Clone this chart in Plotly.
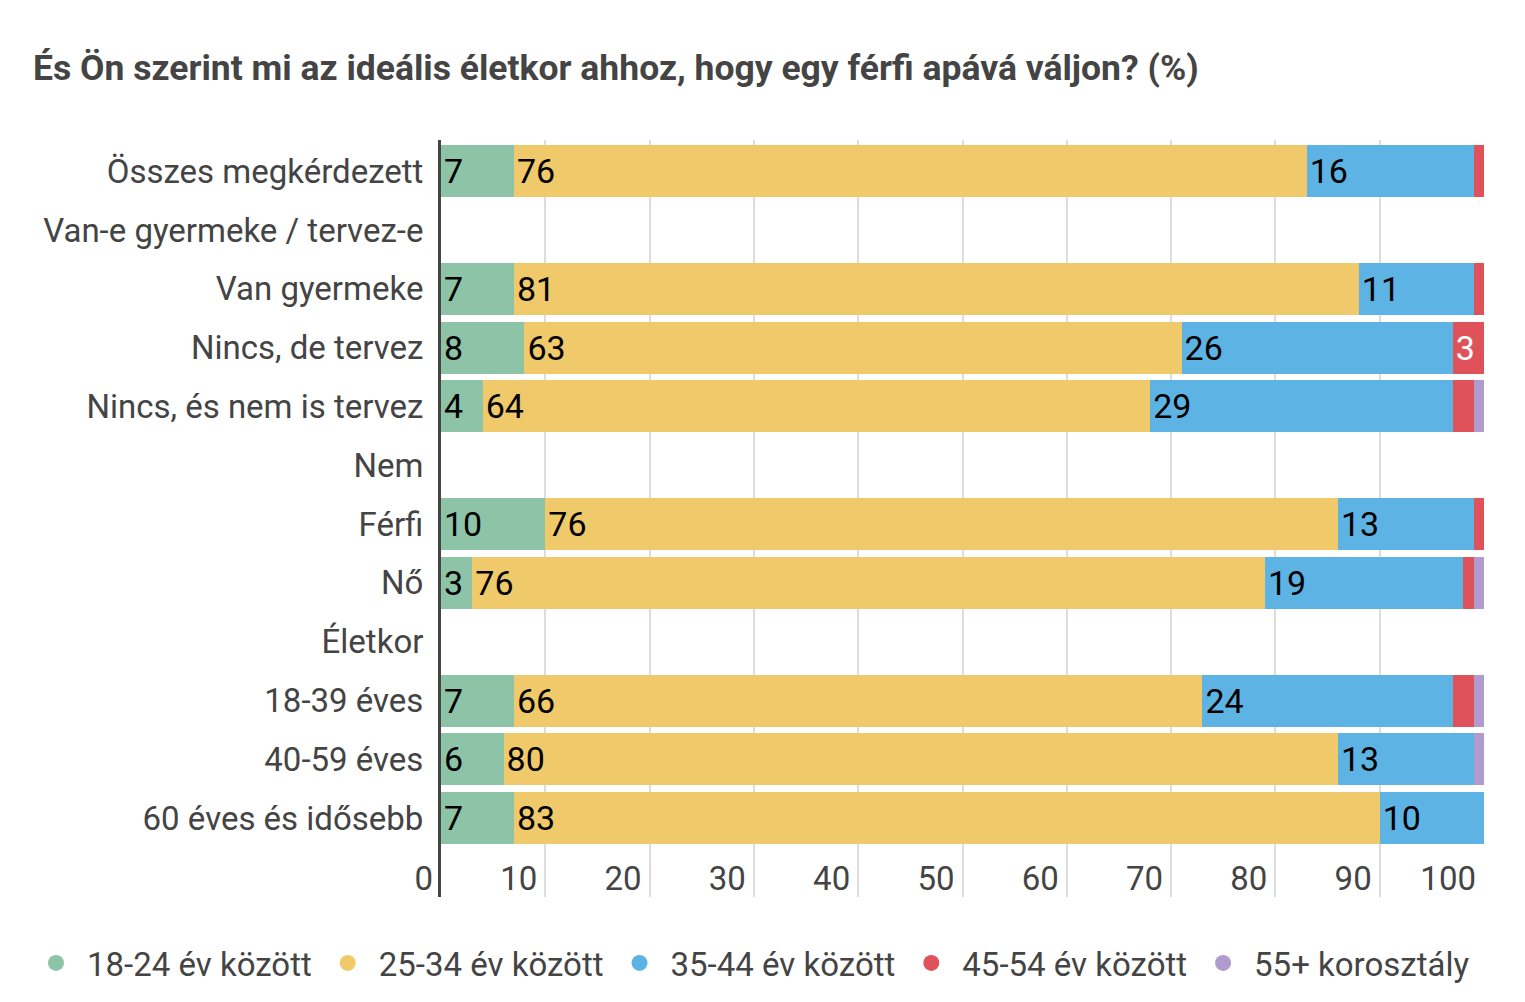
import plotly.graph_objects as go

# sorok (fentről lefelé), a fejléc-soroknak nincs oszlopa
kategoriak = ["Összes megkérdezett", "Van-e gyermeke / tervez-e", "Van gyermeke",
              "Nincs, de tervez", "Nincs, és nem is tervez", "Nem", "Férfi", "Nő",
              "Életkor", "18-39 éves", "40-59 éves", "60 éves és idősebb"]

sorozatok = ["18-24 év között", "25-34 év között", "35-44 év között",
             "45-54 év között", "55+ korosztály"]

ertek_18_24 = [7, None, 7, 8, 4, None, 10, 3, None, 7, 6, 7]
ertek_25_34 = [76, None, 81, 63, 64, None, 76, 76, None, 66, 80, 83]
ertek_35_44 = [16, None, 11, 26, 29, None, 13, 19, None, 24, 13, 10]
ertek_45_54 = [1, None, 1, 3, 2, None, 1, 1, None, 2, 0, 0]
ertek_55 = [0, None, 0, 0, 1, None, 0, 1, None, 1, 1, 0]

x_tickek = [0, 10, 20, 30, 40, 50, 60, 70, 80, 90, 100]

szinek = {"zold": "#8dc3a7", "sarga": "#f0ca6a", "kek": "#5db4e4",
          "piros": "#e0525a", "lila": "#b09bcf", "szurke": "#444444"}
sor_szinek = [szinek["zold"], szinek["sarga"], szinek["kek"], szinek["piros"], szinek["lila"]]
szoveg_szinek = ["#000000", "#000000", "#000000", "#ffffff", "#ffffff"]

BETU = "Roboto, Noto Sans, sans-serif"

# az oldal 8 px-es margója miatt kicsit kisebb a figura
SZEL, MAG = 1509, 986
BAL, JOBB, FENT, LENT = 433, 33, 132, 97
rajz_szel = SZEL - BAL - JOBB
rajz_mag = MAG - FENT - LENT

fig = go.Figure()

for nev, ertekek, szin, szovegszin in zip(sorozatok,
                                         [ertek_18_24, ertek_25_34, ertek_35_44, ertek_45_54, ertek_55],
                                         sor_szinek, szoveg_szinek):
    # csak a 3-nál nagyobb szeleteknél írjuk ki a számot
    feliratok = [str(v) if v is not None and v >= 3 else "" for v in ertekek]
    fig.add_trace(go.Bar(
        x=ertekek, y=kategoriak, orientation="h", name=nev,
        marker=dict(color=szin, line=dict(width=0)),
        text=feliratok, textposition="inside", insidetextanchor="start",
        textangle=0, constraintext="none", cliponaxis=False,
        textfont=dict(family=BETU, size=34, color=szovegszin),
        showlegend=False,
    ))
    # kör alakú jelmagyarázat
    fig.add_trace(go.Scatter(
        x=[None], y=[None], mode="markers", name=nev,
        marker=dict(color=szin, size=26, symbol="circle"),
    ))

fig.update_layout(
    width=SZEL, height=MAG,
    barmode="stack", bargap=0.115,
    paper_bgcolor="white", plot_bgcolor="white",
    margin=dict(l=BAL, r=JOBB, t=FENT, b=LENT, autoexpand=False),
    font=dict(family=BETU, size=33, color=szinek["szurke"]),
    title=dict(text="<b>És Ön szerint mi az ideális életkor ahhoz, hogy egy férfi apává váljon? (%)</b>",
               xref="container", x=25 / SZEL, xanchor="left",
               yref="container", y=1 - 60 / MAG, yanchor="middle",
               font=dict(family=BETU, size=35.5, color=szinek["szurke"])),
    # a jelmagyarázat a rajzterülettől balra kezdődik, így egy sorban elfér
    legend=dict(orientation="h", xref="paper", x=(17 - BAL) / rajz_szel, xanchor="left",
                yref="paper", y=-66 / rajz_mag, yanchor="middle",
                font=dict(family=BETU, size=33, color=szinek["szurke"]),
                itemwidth=52, traceorder="normal"),
    xaxis=dict(range=[0, 100], tickvals=x_tickek, showgrid=True, gridcolor="#dddddd",
               gridwidth=2, zeroline=False, showline=False,
               ticklabelposition="inside left", ticklabeloverflow="allow",
               ticklabelshift=-8, ticklabelstandoff=-6,
               tickfont=dict(size=33, color=szinek["szurke"]), fixedrange=True),
    yaxis=dict(type="category", categoryorder="array", categoryarray=kategoriak,
               range=[12.34, -0.53], showgrid=False, zeroline=False,
               showline=True, linecolor=szinek["szurke"], linewidth=3,
               ticks="", ticklabelstandoff=8,
               tickfont=dict(size=33, color=szinek["szurke"])),
)

fig.write_html("out.html")
